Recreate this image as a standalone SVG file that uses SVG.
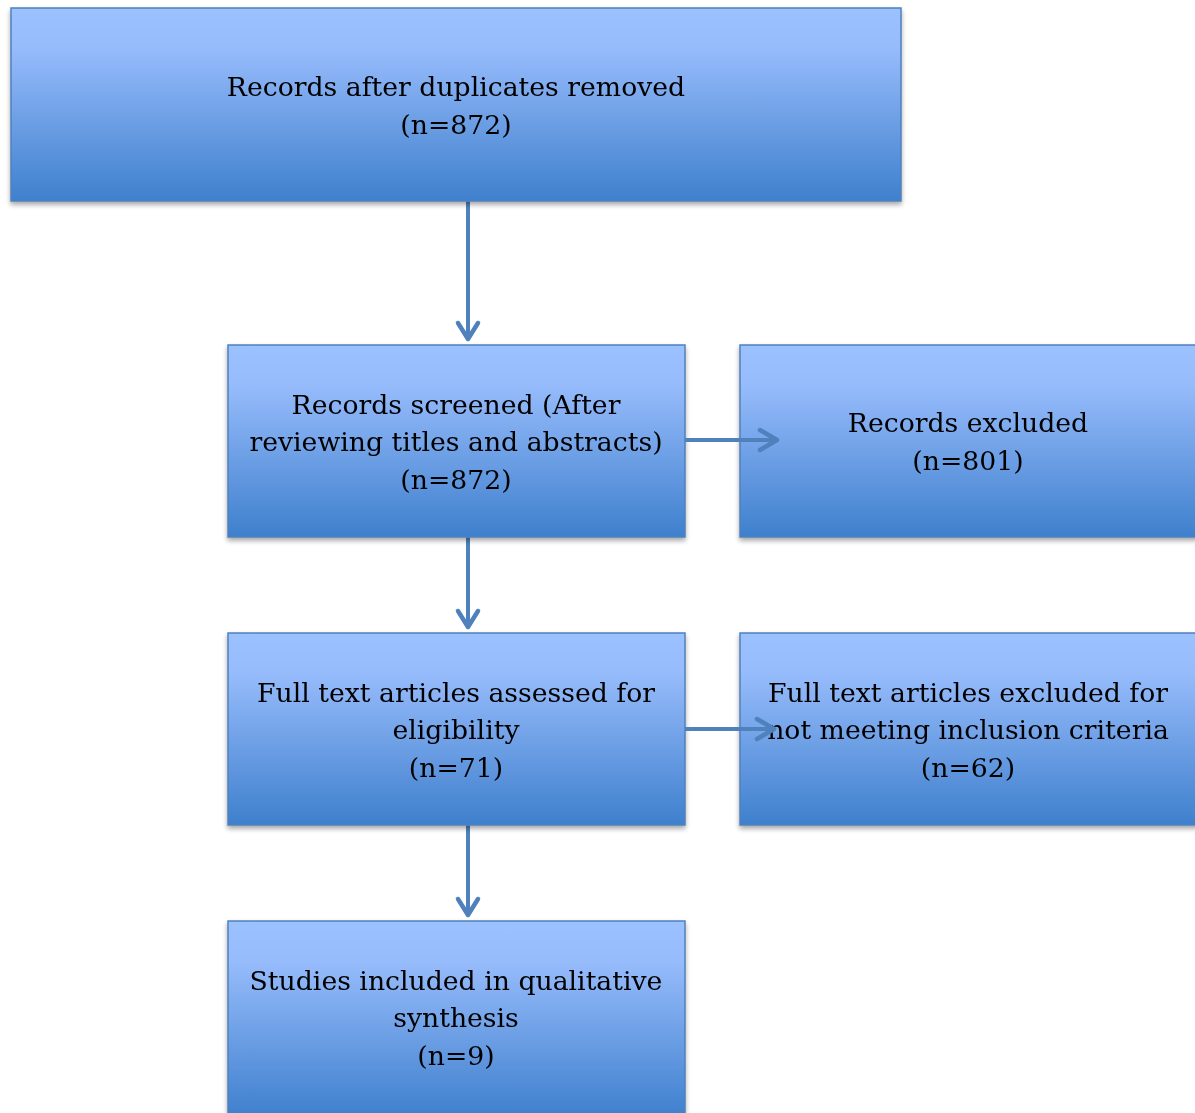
<svg xmlns="http://www.w3.org/2000/svg" width="1195" height="1113" viewBox="0 0 1195 1113">
<style>
.box{fill:url(#g);stroke:#4F81BD;stroke-width:1.5}
.t{font-family:"DejaVu Serif","Liberation Serif",serif;font-size:26.7px;fill:#000;text-anchor:middle}
.c{stroke:#4F81BD;stroke-width:4;fill:none}
.h{stroke:#4F81BD;stroke-width:4.5;fill:none;stroke-linecap:round;stroke-linejoin:round}
</style>
<defs>
<linearGradient id="g" x1="0" y1="0" x2="0" y2="1">
<stop offset="0" stop-color="#9BC1FF"/>
<stop offset="0.2" stop-color="#97BCFC"/>
<stop offset="1" stop-color="#3F80CD"/>
</linearGradient>
<filter id="s" x="-5%" y="-5%" width="110%" height="115%">
<feGaussianBlur in="SourceAlpha" stdDeviation="2.5"/>
<feOffset dx="0" dy="3" result="b"/>
<feComponentTransfer><feFuncA type="linear" slope="0.35"/></feComponentTransfer>
<feMerge><feMergeNode/><feMergeNode in="SourceGraphic"/></feMerge>
</filter>
</defs>
<rect width="1195" height="1113" fill="#fff"/>
<g id="connectors">
<line class="c" x1="468" y1="201" x2="468" y2="340"/>
<polyline class="h" points="458,323 468,339 478,323"/>
<line class="c" x1="468" y1="537" x2="468" y2="628"/>
<polyline class="h" points="458,611 468,627 478,611"/>
<line class="c" x1="468" y1="825" x2="468" y2="916"/>
<polyline class="h" points="458,899 468,915 478,899"/>
</g>
<g id="n1" filter="url(#s)"><rect class="box" x="11" y="8" width="890" height="193"/>
<text class="t" x="456" y="96">Records after duplicates removed</text>
<text class="t" x="456" y="134">(n=872)</text></g>
<g id="n2" filter="url(#s)"><rect class="box" x="228" y="345" width="457" height="192"/>
<text class="t" x="456" y="414">Records screened (After</text>
<text class="t" x="456" y="451">reviewing titles and abstracts)</text>
<text class="t" x="456" y="489">(n=872)</text></g>
<g id="n3" filter="url(#s)"><rect class="box" x="740" y="345" width="458" height="192"/>
<text class="t" x="968" y="432">Records excluded</text>
<text class="t" x="968" y="470">(n=801)</text></g>
<g id="n4" filter="url(#s)"><rect class="box" x="228" y="633" width="457" height="192"/>
<text class="t" x="456" y="702">Full text articles assessed for</text>
<text class="t" x="456" y="739">eligibility</text>
<text class="t" x="456" y="777">(n=71)</text></g>
<g id="n5" filter="url(#s)"><rect class="box" x="740" y="633" width="458" height="192"/>
<text class="t" x="968" y="702">Full text articles excluded for</text>
<text class="t" x="968" y="739">not meeting inclusion criteria</text>
<text class="t" x="968" y="777">(n=62)</text></g>
<g id="n6" filter="url(#s)"><rect class="box" x="228" y="921" width="457" height="196"/>
<text class="t" x="456" y="990">Studies included in qualitative</text>
<text class="t" x="456" y="1027">synthesis</text>
<text class="t" x="456" y="1065">(n=9)</text></g>
<g id="connectors2">
<line class="c" x1="685" y1="440" x2="776" y2="440"/>
<polyline class="h" points="760,430 777,440 760,450"/>
<line class="c" x1="685" y1="729" x2="773" y2="729"/>
<polyline class="h" points="757,719 774,729 757,739"/>
</g>
</svg>
